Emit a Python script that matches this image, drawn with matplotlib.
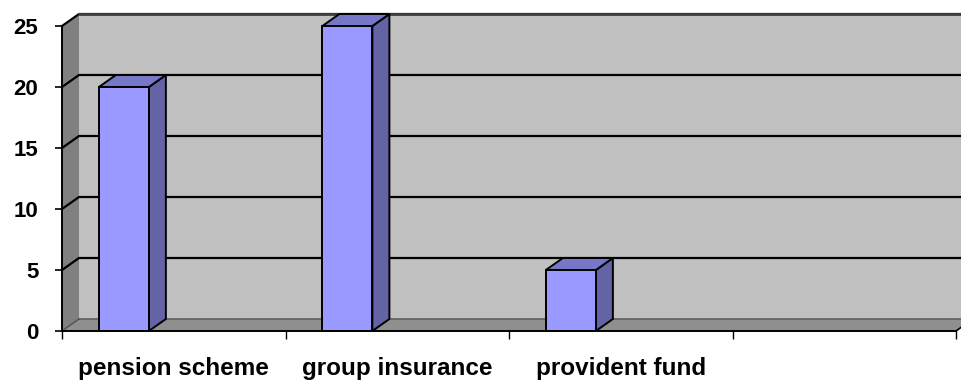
import matplotlib
matplotlib.use("Agg")
import matplotlib.pyplot as plt
from matplotlib.patches import Polygon

# Chart data
categories = ["pension scheme", "group insurance", "provident fund", ""]
values = [20, 25, 5]
y_ticks = [0, 5, 10, 15, 20, 25]

# Colours
wall_back = "#c0c0c0"
wall_side = "#808080"
floor_col = "#8f8f8f"
bar_front = "#9999ff"
bar_side = "#6363a6"
bar_top = "#7777c7"

W, H, DPI = 961, 381, 100
fig = plt.figure(figsize=(W / DPI, H / DPI), dpi=DPI)
fig.patch.set_facecolor("white")

# front plane of the chart box, in pixels
left_px, right_px, bottom_px, top_px = 62, 956, 331, 26
ax = fig.add_axes([left_px / W, (H - bottom_px) / H,
                   (right_px - left_px) / W, (bottom_px - top_px) / H])
n_slots = len(categories)
ymax = 25
ax.set_xlim(0, n_slots)
ax.set_ylim(0, ymax)
ax.patch.set_visible(False)

# depth of the 3-D box, converted from pixels to data units
depth_px_x, depth_px_y = 17, 12
ddx = depth_px_x * n_slots / (right_px - left_px)
ddy = depth_px_y * ymax / (bottom_px - top_px)

def poly(pts, fc, ec="none", lw=0, z=1):
    p = Polygon(pts, closed=True, facecolor=fc, edgecolor=ec, linewidth=lw,
                zorder=z, clip_on=False, joinstyle="miter")
    ax.add_patch(p)
    return p

# back wall, side wall, floor
poly([(ddx, ddy), (n_slots + ddx, ddy), (n_slots + ddx, ymax + ddy), (ddx, ymax + ddy)],
     wall_back, z=0.5)
poly([(0, 0), (ddx, ddy), (ddx, ymax + ddy), (0, ymax)], wall_side, z=0.6)
poly([(0, 0), (n_slots, 0), (n_slots + ddx, ddy), (ddx, ddy)], floor_col, z=0.7)

# gridlines along the side wall and back wall
for t in y_ticks[1:]:
    ax.plot([0, ddx, n_slots + ddx], [t, t + ddy, t + ddy], color="black",
            lw=1.6, zorder=0.9, clip_on=False, solid_joinstyle="miter")
ax.plot([ddx, n_slots + ddx], [ddy, ddy], color="#606060", lw=1.2,
        zorder=0.9, clip_on=False)
ax.plot([ddx, n_slots + ddx], [ymax + ddy, ymax + ddy], color="#404040", lw=2.0,
        zorder=0.9, clip_on=False)
ax.plot([0, ddx], [0, ddy], color="#505050", lw=1.0, zorder=0.9, clip_on=False)
ax.plot([n_slots, n_slots + ddx], [0, ddy], color="black", lw=1.2, zorder=0.9,
        clip_on=False)

# 3-D columns
bar_offset = 0.165
bar_w = 50 * n_slots / (right_px - left_px)
for i, v in enumerate(values):
    x0 = i + bar_offset
    x1 = x0 + bar_w
    z = 2 + i
    ax.bar(x0, v, width=bar_w, align="edge", color=bar_front, edgecolor="black",
           linewidth=1.4, zorder=z + 0.3, clip_on=False)
    poly([(x1, 0), (x1 + ddx, ddy), (x1 + ddx, v + ddy), (x1, v)], bar_side,
         ec="black", lw=1.4, z=z)
    poly([(x0, v), (x1, v), (x1 + ddx, v + ddy), (x0 + ddx, v + ddy)], bar_top,
         ec="black", lw=1.4, z=z + 0.1)

# axes lines and ticks
for s in ("top", "right"):
    ax.spines[s].set_visible(False)
for s in ("left", "bottom"):
    ax.spines[s].set_linewidth(1.4)
    ax.spines[s].set_zorder(10)
ax.set_yticks(y_ticks)
ax.set_yticklabels([str(t) for t in y_ticks], fontsize=16, fontweight="bold",
                   family="Liberation Sans")
ax.tick_params(axis="y", direction="out", length=5, width=1.2, pad=12)
ax.set_xticks(range(n_slots + 1))
ax.set_xticklabels([])
ax.tick_params(axis="x", which="major", direction="out", length=6, width=1.0)
ax.set_xticks([i + 0.5 for i in range(n_slots)], minor=True)
ax.set_xticklabels(categories, minor=True, fontsize=17.5, fontweight="bold",
                   family="Liberation Sans")
ax.tick_params(axis="x", which="minor", length=0, pad=18.5)

fig.savefig("out.png", dpi=DPI, facecolor="white")
